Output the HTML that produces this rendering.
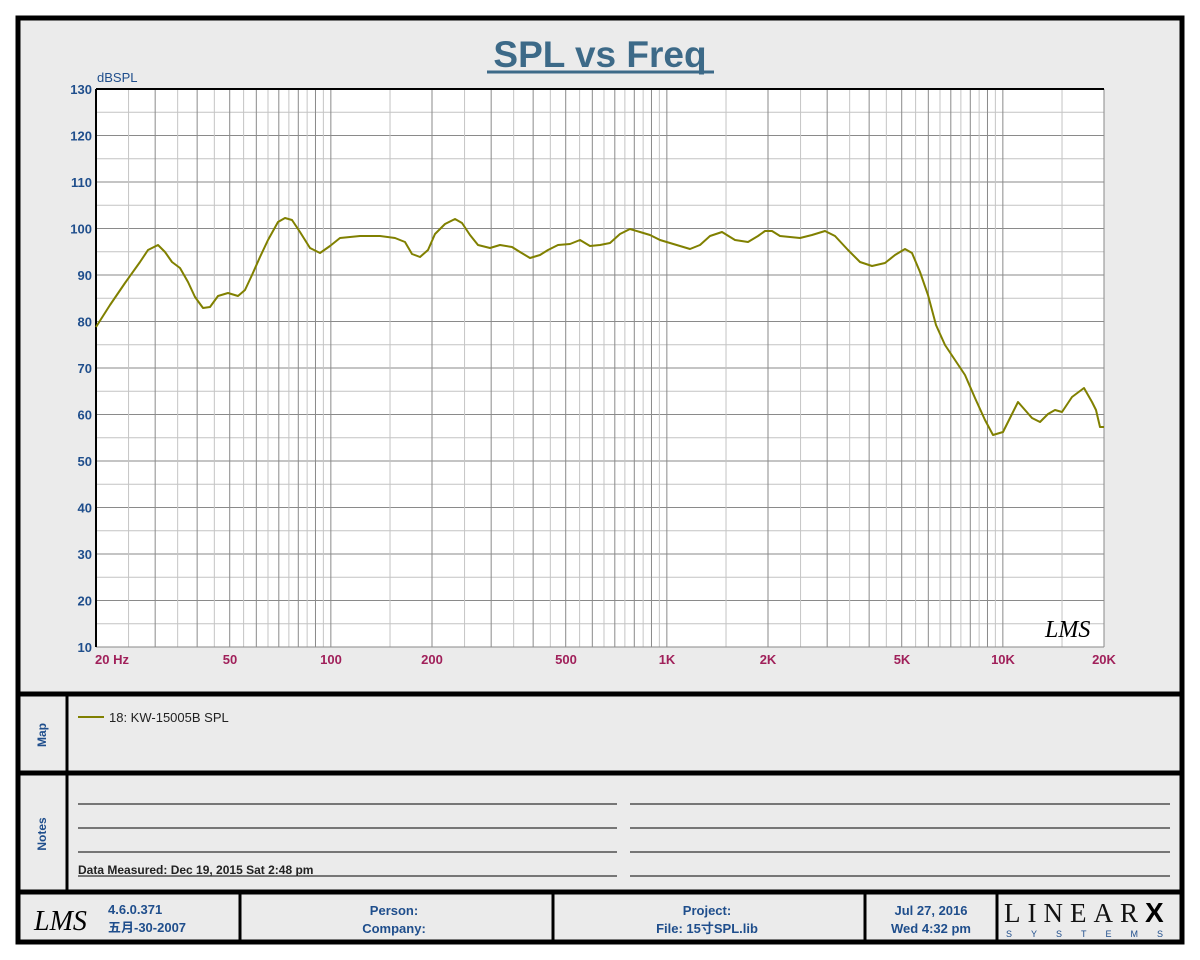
<!DOCTYPE html>
<html><head><meta charset="utf-8"><style>
body{margin:0;background:#fff;}
svg{display:block;font-family:"Liberation Sans","Noto Sans CJK SC",sans-serif;}
</style></head><body>
<svg id="s" width="1200" height="960" viewBox="0 0 1200 960" xmlns="http://www.w3.org/2000/svg">
<rect x="18" y="18" width="1164" height="924" fill="#ebebeb" stroke="#000" stroke-width="5"/>
<text x="600" y="67" text-anchor="middle" font-size="37" font-weight="bold" fill="#3d6a88">SPL vs Freq</text>
<line x1="487" y1="72" x2="714" y2="72" stroke="#3d6a88" stroke-width="3"/>
<rect x="96" y="89" width="1008" height="558" fill="#fff"/>
<g id="grid"></g>
<line x1="96" y1="89" x2="1104" y2="89" stroke="#000" stroke-width="2"/>
<line x1="96" y1="89" x2="96" y2="647" stroke="#000" stroke-width="2"/>
<text x="97" y="82" font-size="13" fill="#1f4e8c">dBSPL</text>
<g id="ylab" font-size="13" font-weight="bold" fill="#1f4e8c" text-anchor="end"></g>
<g font-size="13" font-weight="bold" fill="#a0205a" text-anchor="middle">
<text x="112" y="664">20  Hz</text><text x="230" y="664">50</text><text x="331" y="664">100</text><text x="432" y="664">200</text><text x="566" y="664">500</text><text x="667" y="664">1K</text><text x="768" y="664">2K</text><text x="902" y="664">5K</text><text x="1003" y="664">10K</text><text x="1104" y="664">20K</text>
</g>
<text x="1045" y="637" font-size="24" font-style="italic" fill="#000" font-family="Liberation Serif,serif">LMS</text>
<polyline fill="none" stroke="#808000" stroke-width="2" stroke-linejoin="round" points="96,327 110,305 125,283 140,262 148,250 158,245 165,252 172,262 180,268 188,282 195,297 203,308 210,307 218,296 228,293 238,296 245,290 252,275 260,257 268,240 278,222 285,218 292,220 300,232 310,248 320,253 330,246 340,238 360,236 380,236 395,238 405,242 412,254 420,257 428,250 435,234 445,224 455,219 462,223 470,235 478,245 490,248 500,245 512,247 520,252 530,258 540,255 548,250 558,245 570,244 580,240 590,246 600,245 610,243 620,234 630,229 640,232 650,235 660,240 670,243 690,249 700,245 710,236 722,232 735,240 748,242 758,236 765,231 772,231 780,236 790,237 800,238 812,235 825,231 835,236 848,250 860,262 872,266 885,263 895,255 905,249 912,253 920,272 928,295 936,325 945,345 955,360 965,375 975,398 985,420 993,435 1003,432 1010,418 1018,402 1025,410 1032,418 1040,422 1048,414 1055,410 1062,412 1072,397 1084,388 1092,402 1096,410 1100,427 1104,427"/>
<line x1="18" y1="694" x2="1182" y2="694" stroke="#000" stroke-width="5"/>
<line x1="18" y1="773" x2="1182" y2="773" stroke="#000" stroke-width="5"/>
<line x1="18" y1="892" x2="1182" y2="892" stroke="#000" stroke-width="5"/>
<line x1="67" y1="694" x2="67" y2="892" stroke="#000" stroke-width="3"/>
<text transform="translate(46,735) rotate(-90)" text-anchor="middle" font-size="12" font-weight="bold" fill="#1f4e8c">Map</text>
<text transform="translate(46,834) rotate(-90)" text-anchor="middle" font-size="12" font-weight="bold" fill="#1f4e8c">Notes</text>
<line x1="78" y1="717" x2="104" y2="717" stroke="#808000" stroke-width="2"/>
<text x="109" y="722" font-size="13" fill="#222">18: KW-15005B SPL</text>
<g stroke="#000" stroke-width="1">
<line x1="78" y1="804" x2="617" y2="804"/><line x1="78" y1="828" x2="617" y2="828"/><line x1="78" y1="852" x2="617" y2="852"/><line x1="78" y1="876" x2="617" y2="876"/>
<line x1="630" y1="804" x2="1170" y2="804"/><line x1="630" y1="828" x2="1170" y2="828"/><line x1="630" y1="852" x2="1170" y2="852"/><line x1="630" y1="876" x2="1170" y2="876"/>
</g>
<text x="78" y="874" font-size="12" font-weight="bold" fill="#222">Data Measured: Dec 19, 2015  Sat  2:48 pm</text>
<g stroke="#000" stroke-width="3">
<line x1="240" y1="892" x2="240" y2="942"/><line x1="553" y1="892" x2="553" y2="942"/><line x1="865" y1="892" x2="865" y2="942"/><line x1="997" y1="892" x2="997" y2="942"/>
</g>
<text x="34" y="930" font-size="28" font-style="italic" fill="#000" font-family="Liberation Serif,serif">LMS</text>
<g font-size="13" font-weight="bold" fill="#1f4e8c">
<text x="108" y="914">4.6.0.371</text><text x="108" y="932">五月-30-2007</text>
<text x="394" y="915" text-anchor="middle">Person:</text><text x="394" y="933" text-anchor="middle">Company:</text>
<text x="707" y="915" text-anchor="middle">Project:</text><text x="707" y="933" text-anchor="middle">File: 15寸SPL.lib</text>
<text x="931" y="915" text-anchor="middle">Jul 27, 2016</text><text x="931" y="933" text-anchor="middle">Wed  4:32 pm</text>
</g>
<text x="1004" y="922" font-size="27" fill="#111" font-family="Liberation Serif,serif" letter-spacing="7">LINEAR</text>
<text x="1145" y="922" font-size="28" font-weight="bold" fill="#000">X</text>
<text x="1006" y="937" font-size="9" fill="#1f4e8c" letter-spacing="19">SYSTEMS</text>
</svg>
<script>
var g=document.getElementById('grid'),h='';
for(var i=1;i<24;i++){var y=89+i*23.25;h+='<line x1="96" x2="1104" y1="'+y+'" y2="'+y+'" stroke="'+(i%2?'#c4c4c4':'#8a8a8a')+'" stroke-width="1"/>';}
[10,100,1000,10000].forEach(function(d){for(var m=1;m<10;m+=0.5){var f=d*m;if(f<=20||f>20000)continue;var x=96+336*Math.log10(f/20);var dark=(m%1===0);h+='<line y1="89" y2="647" x1="'+x+'" x2="'+x+'" stroke="'+(dark?'#8a8a8a':'#c4c4c4')+'" stroke-width="1"/>';}});
h+='<line x1="1104" x2="1104" y1="89" y2="647" stroke="#8a8a8a"/><line x1="96" x2="1104" y1="647" y2="647" stroke="#8a8a8a"/>';
g.innerHTML=h;
var yl='';for(var v=130,k=0;v>=10;v-=10,k++){yl+='<text x="92" y="'+(94+k*46.5)+'">'+v+'</text>';}
document.getElementById('ylab').innerHTML=yl;
</script>
</body></html>
